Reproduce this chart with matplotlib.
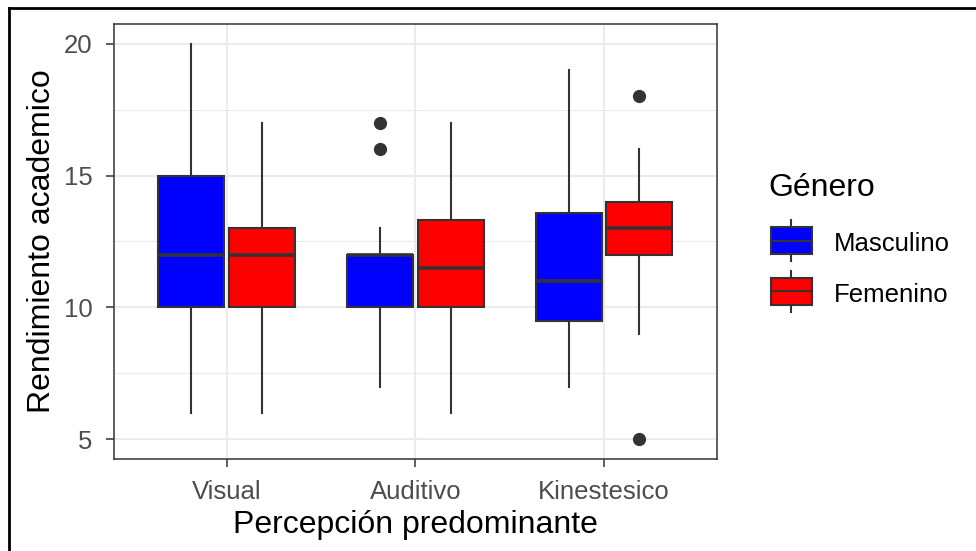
import matplotlib
matplotlib.use('Agg')
import matplotlib.pyplot as plt
from matplotlib.patches import Rectangle
from matplotlib.lines import Line2D

plt.rcParams['font.family'] = ['Liberation Sans', 'DejaVu Sans']

# Datos (resumen de cada caja)
categorias = ['Visual', 'Auditivo', 'Kinestesico']
generos = ['Masculino', 'Femenino']
colores = ['#0000FF', '#FF0000']

masc_lo = [6, 7, 7]
masc_q1 = [10, 10, 9.5]
masc_med = [12, 12, 11]
masc_q3 = [15, 12, 13.6]
masc_hi = [20, 13, 19]
masc_out = [[], [16, 17], []]

fem_lo = [6, 6, 9]
fem_q1 = [10, 10, 12]
fem_med = [12, 11.5, 13]
fem_q3 = [13, 13.3, 14]
fem_hi = [17, 17, 16]
fem_out = [[], [], [5, 18]]

W, H = 976, 551
fig = plt.figure(figsize=(W / 100, H / 100), dpi=100)
ax = fig.add_axes([113.5 / W, (H - 459) / H, (717.2 - 113.5) / W, (459 - 24) / H])

edge = '#333333'


def stats(lo, q1, med, q3, hi, out):
    return [dict(whislo=lo[i], q1=q1[i], med=med[i], q3=q3[i], whishi=hi[i],
                 fliers=out[i]) for i in range(len(lo))]


grupos = [stats(masc_lo, masc_q1, masc_med, masc_q3, masc_hi, masc_out),
          stats(fem_lo, fem_q1, fem_med, fem_q3, fem_hi, fem_out)]
offsets = [-0.1875, 0.1875]

for g, st in enumerate(grupos):
    pos = [i + 1 + offsets[g] for i in range(len(categorias))]
    ax.bxp(st, positions=pos, widths=0.35, patch_artist=True, showcaps=False,
           boxprops=dict(facecolor=colores[g], edgecolor=edge, linewidth=1.5),
           medianprops=dict(color=edge, linewidth=2.6, solid_capstyle='butt'),
           whiskerprops=dict(color=edge, linewidth=1.5),
           flierprops=dict(marker='o', markerfacecolor=edge, markeredgecolor=edge,
                           markersize=8.5), zorder=3)

ax.set_xlim(0.4, 3.6)
ax.set_ylim(4.25, 20.75)
ax.set_xticks([1, 2, 3])
ax.set_xticklabels(categorias)
ax.set_yticks([5, 10, 15, 20])
ax.set_yticks([7.5, 12.5, 17.5], minor=True)
ax.tick_params(axis='x', which='minor', bottom=False)
ax.tick_params(which='major', length=5.5, width=1.1, color=edge, labelsize=18.5,
               labelcolor='#4D4D4D', pad=9.5)
ax.tick_params(which='minor', length=0)
ax.grid(which='major', color='#EBEBEB', linewidth=1.5, zorder=0)
ax.grid(which='minor', axis='y', color='#EBEBEB', linewidth=0.8, zorder=0)
ax.set_axisbelow(True)
for s in ax.spines.values():
    s.set_color(edge)
    s.set_linewidth(1.1)

ax.set_xlabel('Percepción predominante', fontsize=23, labelpad=4.5)
ax.set_ylabel('Rendimiento academico', fontsize=23, labelpad=5)

# Leyenda dibujada a mano (estilo ggplot)
def px(x, y):
    return x / W, 1 - y / H

fig.text(*px(768, 188), 'Género', fontsize=23, va='center', ha='left')
key_top = [227.3, 277.7]
for g, nombre in enumerate(generos):
    t = key_top[g]
    x0, y0 = px(770.7, t + 27)
    fig.add_artist(Rectangle((x0, y0), 41.3 / W, 27 / H, transform=fig.transFigure,
                             facecolor=colores[g], edgecolor=edge, linewidth=1.5))
    xm = [px(770.7, 0)[0], px(812, 0)[0]]
    ym = px(0, t + 13.5)[1]
    fig.add_artist(Line2D(xm, [ym, ym], transform=fig.transFigure, color=edge,
                          linewidth=1.5))
    xw = px(791, 0)[0]
    fig.add_artist(Line2D([xw, xw], [px(0, t - 7)[1], px(0, t)[1]],
                          transform=fig.transFigure, color=edge, linewidth=1.5))
    fig.add_artist(Line2D([xw, xw], [px(0, t + 27)[1], px(0, t + 34)[1]],
                          transform=fig.transFigure, color=edge, linewidth=1.5))
    fig.text(*px(834, t + 17), nombre, fontsize=18.5, va='center', ha='left')

# Marco negro del borde superior e izquierdo
fig.add_artist(Line2D([px(9, 0)[0], 1], [px(0, 8)[1]] * 2, transform=fig.transFigure,
                      color='black', linewidth=2))
fig.add_artist(Line2D([px(9, 0)[0]] * 2, [px(0, 8)[1], 0], transform=fig.transFigure,
                      color='black', linewidth=2))

fig.savefig('out.png', dpi=100)
